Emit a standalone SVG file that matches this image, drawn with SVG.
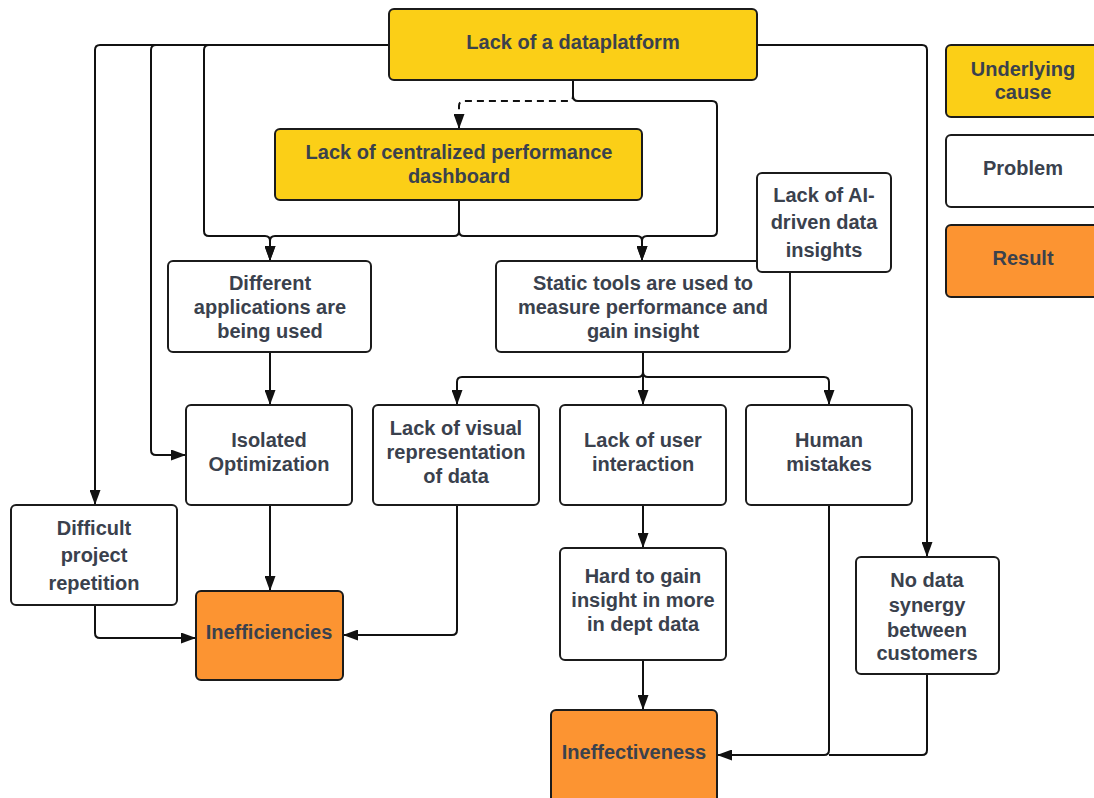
<svg xmlns="http://www.w3.org/2000/svg" width="1094" height="798" viewBox="0 0 1094 798">
  <style>
    .box { stroke: #1b1b1b; stroke-width: 2; }
    .cause { fill: #fbcf17; }
    .problem { fill: #ffffff; }
    .result { fill: #fc9432; }
    .lbl { font-family: "Liberation Sans", Arial, sans-serif; font-size: 20px; font-weight: bold; fill: #3a414d; text-anchor: middle; }
    .edge { fill: none; stroke: #111111; stroke-width: 2; }
    .dashed { stroke-dasharray: 7 5; }
  </style>
  <defs>
    <marker id="arrow" viewBox="0 0 15 11" refX="14" refY="5.5" markerWidth="15" markerHeight="11" markerUnits="userSpaceOnUse" orient="auto">
      <path d="M0,0 L15,5.5 L0,11 z" fill="#111111"/>
    </marker>
  </defs>

  <rect width="1094" height="798" fill="#ffffff"/>

  <!-- connectors -->
  <g id="connectors">
    <path class="edge" d="M389,45 H100 Q95,45 95,50 V504" marker-end="url(#arrow)"/>
    <path class="edge" d="M156,45 Q151,45 151,50 V450 Q151,455 156,455 H185" marker-end="url(#arrow)"/>
    <path class="edge" d="M209,45 Q204,45 204,50 V231 Q204,236 209,236 H265 Q270,236 270,241 V260" marker-end="url(#arrow)"/>
    <path class="edge" d="M459,200 V231 Q459,236 454,236 H275 Q270,236 270,241 V260" marker-end="url(#arrow)"/>
    <path class="edge" d="M459,200 V231 Q459,236 464,236 H637 Q642,236 642,241 V260" marker-end="url(#arrow)"/>
    <path class="edge" d="M573,80 V96 Q573,101 578,101 H712 Q717,101 717,106 V231 Q717,236 712,236 H647 Q642,236 642,241 V260" marker-end="url(#arrow)"/>
    <path class="edge dashed" d="M573,80 V96 Q573,101 568,101 H464 Q459,101 459,106 V128" marker-end="url(#arrow)"/>
    <path class="edge" d="M757,45 H922 Q927,45 927,50 V556" marker-end="url(#arrow)"/>
    <path class="edge" d="M270,352 V404" marker-end="url(#arrow)"/>
    <path class="edge" d="M643,352 V404" marker-end="url(#arrow)"/>
    <path class="edge" d="M643,372 Q643,377 638,377 H462 Q457,377 457,382 V404" marker-end="url(#arrow)"/>
    <path class="edge" d="M643,372 Q643,377 648,377 H824 Q829,377 829,382 V404" marker-end="url(#arrow)"/>
    <path class="edge" d="M270,505 V590" marker-end="url(#arrow)"/>
    <path class="edge" d="M95,605 V633 Q95,638 100,638 H195" marker-end="url(#arrow)"/>
    <path class="edge" d="M457,505 V630 Q457,635 452,635 H344" marker-end="url(#arrow)"/>
    <path class="edge" d="M643,505 V547" marker-end="url(#arrow)"/>
    <path class="edge" d="M643,660 V709" marker-end="url(#arrow)"/>
    <path class="edge" d="M829,505 V750 Q829,755 824,755 H718" marker-end="url(#arrow)"/>
    <path class="edge" d="M927,674 V750 Q927,755 922,755 H829"/>
  </g>

  <!-- underlying causes -->
  <g id="lack-dataplatform">
    <rect class="box cause" x="389" y="9" width="368" height="71" rx="5"/>
    <text class="lbl" x="573" y="49">Lack of a dataplatform</text>
  </g>
  <g id="lack-dashboard">
    <rect class="box cause" x="275" y="129" width="367" height="71" rx="5"/>
    <text class="lbl" x="459" y="159">Lack of centralized performance</text>
    <text class="lbl" x="459" y="183">dashboard</text>
  </g>

  <!-- problems -->
  <g id="different-applications">
    <rect class="box problem" x="168" y="261" width="203" height="91" rx="5"/>
    <text class="lbl" x="270" y="290">Different</text>
    <text class="lbl" x="270" y="314">applications are</text>
    <text class="lbl" x="270" y="338">being used</text>
  </g>
  <g id="static-tools">
    <rect class="box problem" x="496" y="261" width="294" height="91" rx="5"/>
    <text class="lbl" x="643" y="290">Static tools are used to</text>
    <text class="lbl" x="643" y="314">measure performance and</text>
    <text class="lbl" x="643" y="338">gain insight</text>
  </g>
  <g id="lack-ai-insights">
    <rect class="box problem" x="757" y="173" width="134" height="99" rx="5"/>
    <text class="lbl" x="824" y="202">Lack of AI-</text>
    <text class="lbl" x="824" y="229">driven data</text>
    <text class="lbl" x="824" y="257">insights</text>
  </g>
  <g id="isolated-optimization">
    <rect class="box problem" x="186" y="405" width="166" height="100" rx="5"/>
    <text class="lbl" x="269" y="447">Isolated</text>
    <text class="lbl" x="269" y="471">Optimization</text>
  </g>
  <g id="lack-visual">
    <rect class="box problem" x="373" y="405" width="166" height="100" rx="5"/>
    <text class="lbl" x="456" y="435">Lack of visual</text>
    <text class="lbl" x="456" y="459">representation</text>
    <text class="lbl" x="456" y="483">of data</text>
  </g>
  <g id="lack-user-interaction">
    <rect class="box problem" x="560" y="405" width="166" height="100" rx="5"/>
    <text class="lbl" x="643" y="447">Lack of user</text>
    <text class="lbl" x="643" y="471">interaction</text>
  </g>
  <g id="human-mistakes">
    <rect class="box problem" x="746" y="405" width="166" height="100" rx="5"/>
    <text class="lbl" x="829" y="447">Human</text>
    <text class="lbl" x="829" y="471">mistakes</text>
  </g>
  <g id="difficult-repetition">
    <rect class="box problem" x="11" y="505" width="166" height="100" rx="5"/>
    <text class="lbl" x="94" y="535">Difficult</text>
    <text class="lbl" x="94" y="562">project</text>
    <text class="lbl" x="94" y="590">repetition</text>
  </g>
  <g id="hard-insight">
    <rect class="box problem" x="560" y="548" width="166" height="112" rx="5"/>
    <text class="lbl" x="643" y="583">Hard to gain</text>
    <text class="lbl" x="643" y="607">insight in more</text>
    <text class="lbl" x="643" y="631">in dept data</text>
  </g>
  <g id="no-data-synergy">
    <rect class="box problem" x="856" y="557" width="143" height="117" rx="5"/>
    <text class="lbl" x="927" y="587">No data</text>
    <text class="lbl" x="927" y="612">synergy</text>
    <text class="lbl" x="927" y="637">between</text>
    <text class="lbl" x="927" y="660">customers</text>
  </g>

  <!-- results -->
  <g id="inefficiencies">
    <rect class="box result" x="196" y="591" width="147" height="89" rx="5"/>
    <text class="lbl" x="269" y="639">Inefficiencies</text>
  </g>
  <g id="ineffectiveness">
    <rect class="box result" x="551" y="710" width="166" height="94" rx="5"/>
    <text class="lbl" x="634" y="759">Ineffectiveness</text>
  </g>

  <!-- legend -->
  <g id="legend-cause">
    <rect class="box cause" x="946" y="45" width="160" height="72" rx="5"/>
    <text class="lbl" x="1023" y="76">Underlying</text>
    <text class="lbl" x="1023" y="99">cause</text>
  </g>
  <g id="legend-problem">
    <rect class="box problem" x="946" y="135" width="160" height="72" rx="5"/>
    <text class="lbl" x="1023" y="175">Problem</text>
  </g>
  <g id="legend-result">
    <rect class="box result" x="946" y="225" width="160" height="72" rx="5"/>
    <text class="lbl" x="1023" y="265">Result</text>
  </g>
</svg>
